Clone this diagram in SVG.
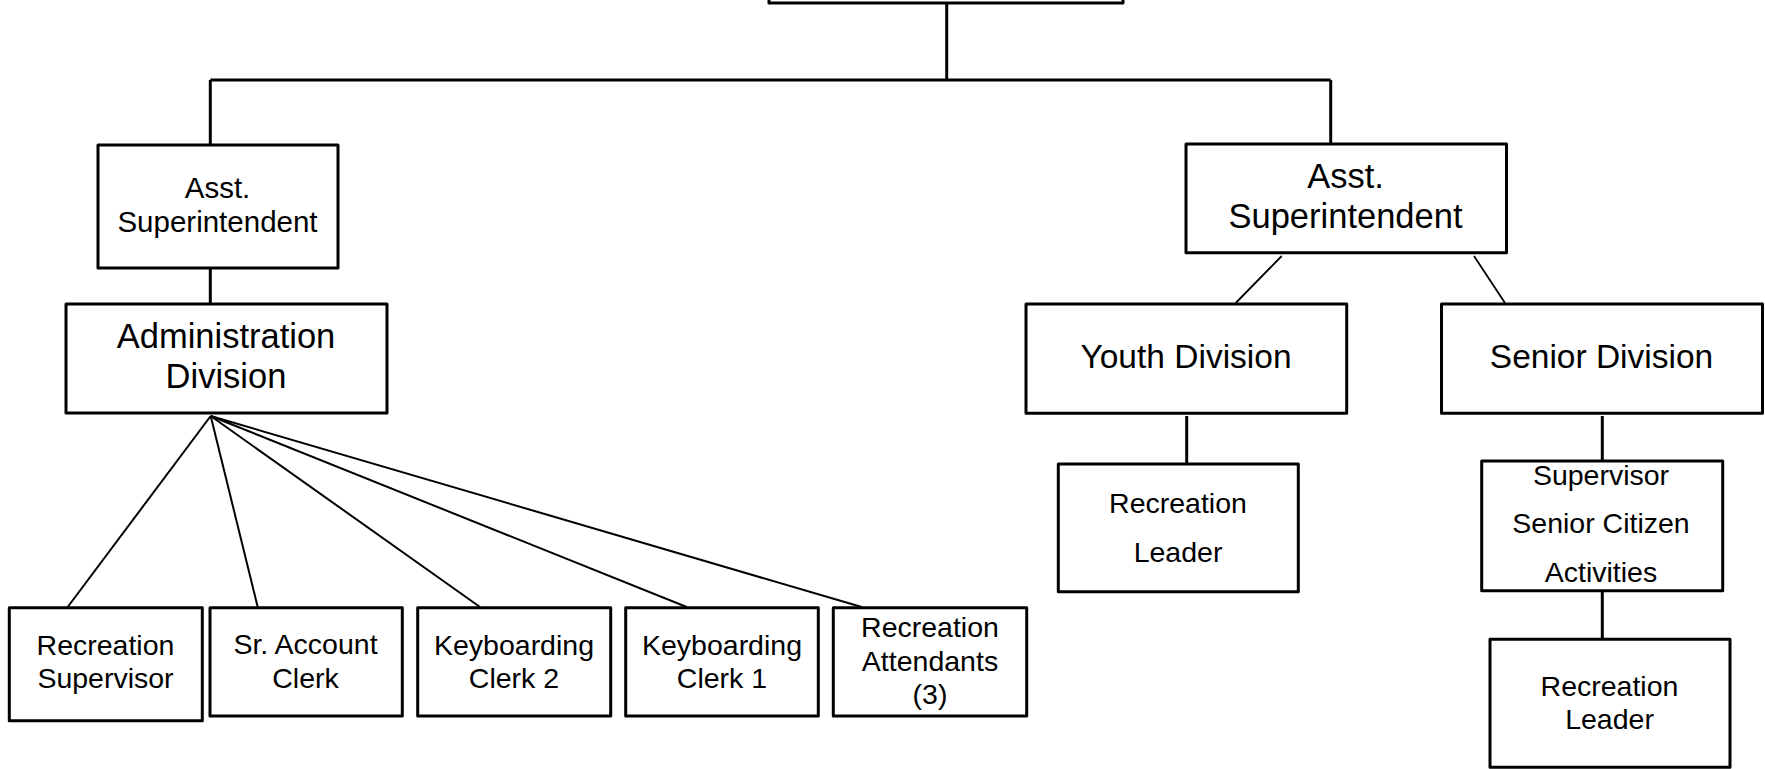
<svg xmlns="http://www.w3.org/2000/svg" width="1765" height="769" viewBox="0 0 1765 769">
<style>
.box{fill:#fff;stroke:#000;stroke-width:3;stroke-linejoin:round}
.c{stroke:#000;stroke-width:3;fill:none}
.f{stroke:#000;stroke-width:2;fill:none}
.d{stroke:#000;stroke-width:1.8;fill:none}
text{font-family:"Liberation Sans",Arial,sans-serif;fill:#000;text-anchor:middle}
.s{font-size:28.5px}
.m{font-size:29.5px}
.l{font-size:34.5px}
.k{font-size:33.5px}
</style>
<rect width="1765" height="769" fill="#fff"/>
<g id="connectors">
<line class="c" x1="946.7" y1="3" x2="946.7" y2="80"/>
<line class="c" x1="210.3" y1="80" x2="1330.7" y2="80"/>
<line class="c" x1="210.3" y1="80" x2="210.3" y2="145"/>
<line class="c" x1="1330.7" y1="80" x2="1330.7" y2="144"/>
<line class="c" x1="210.3" y1="268" x2="210.3" y2="304"/>
<line class="f" x1="210.7" y1="416" x2="67.7" y2="607"/>
<line class="f" x1="210.7" y1="416" x2="257.7" y2="607"/>
<line class="f" x1="210.7" y1="416" x2="480" y2="607"/>
<line class="f" x1="210.7" y1="416" x2="686.7" y2="607"/>
<line class="f" x1="210.7" y1="416" x2="861.7" y2="607"/>
<line class="d" x1="1281.7" y1="256" x2="1235.7" y2="303"/>
<line class="d" x1="1474" y1="256" x2="1505" y2="303"/>
<line class="c" x1="1186.7" y1="416" x2="1186.7" y2="464"/>
<line class="c" x1="1602.3" y1="416" x2="1602.3" y2="461"/>
<line class="c" x1="1602.3" y1="590" x2="1602.3" y2="639"/>
</g>
<g id="superintendent"><rect class="box" x="769" y="-60" width="354" height="63"/></g>
<g id="asst-left"><rect class="box" x="98" y="145" width="240" height="123"/>
<text class="m" x="217.5" y="197.7">Asst.</text><text class="m" x="217.5" y="231.7">Superintendent</text></g>
<g id="admin"><rect class="box" x="66" y="304" width="321" height="109"/>
<text class="l" x="226" y="347.7">Administration</text><text class="l" x="226" y="388.3">Division</text></g>
<g id="asst-right"><rect class="box" x="1186" y="144" width="320.5" height="108.7"/>
<text class="l" x="1345.5" y="188.3">Asst.</text><text class="l" x="1345.5" y="228.3">Superintendent</text></g>
<g id="youth"><rect class="box" x="1026" y="304" width="320.7" height="109.3"/>
<text class="k" x="1186" y="368.3">Youth Division</text></g>
<g id="senior"><rect class="box" x="1441.5" y="304" width="321" height="109.3"/>
<text class="k" x="1601.5" y="368.3">Senior Division</text></g>
<g id="youth-leader"><rect class="box" x="1058.3" y="464" width="240" height="127.7"/>
<text class="s" x="1178" y="513.3">Recreation</text><text class="s" x="1178" y="561.7">Leader</text></g>
<g id="senior-supervisor"><rect class="box" x="1481.7" y="461" width="241" height="129.7"/>
<text class="s" x="1601" y="485">Supervisor</text><text class="s" x="1601" y="533.3">Senior Citizen</text><text class="s" x="1601" y="581.7">Activities</text></g>
<g id="senior-leader"><rect class="box" x="1490" y="639.3" width="240" height="128"/>
<text class="s" x="1609.5" y="696">Recreation</text><text class="s" x="1609.5" y="729.3">Leader</text></g>
<g id="rec-supervisor"><rect class="box" x="9.3" y="607.7" width="193" height="113"/>
<text class="s" x="105.5" y="655">Recreation</text><text class="s" x="105.5" y="688.3">Supervisor</text></g>
<g id="sr-account-clerk"><rect class="box" x="210" y="607.7" width="192.3" height="108.3"/>
<text class="s" x="305.5" y="654">Sr. Account</text><text class="s" x="305.5" y="687.5">Clerk</text></g>
<g id="keyboarding-2"><rect class="box" x="417.7" y="607.7" width="193" height="108.3"/>
<text class="s" x="514" y="655">Keyboarding</text><text class="s" x="514" y="688.3">Clerk 2</text></g>
<g id="keyboarding-1"><rect class="box" x="625.7" y="607.7" width="192.6" height="108.3"/>
<text class="s" x="722" y="655">Keyboarding</text><text class="s" x="722" y="688.3">Clerk 1</text></g>
<g id="rec-attendants"><rect class="box" x="833.3" y="607.7" width="193.4" height="108.3"/>
<text class="s" x="930" y="636.7">Recreation</text><text class="s" x="930" y="670.7">Attendants</text><text class="s" x="930" y="704">(3)</text></g>
</svg>
